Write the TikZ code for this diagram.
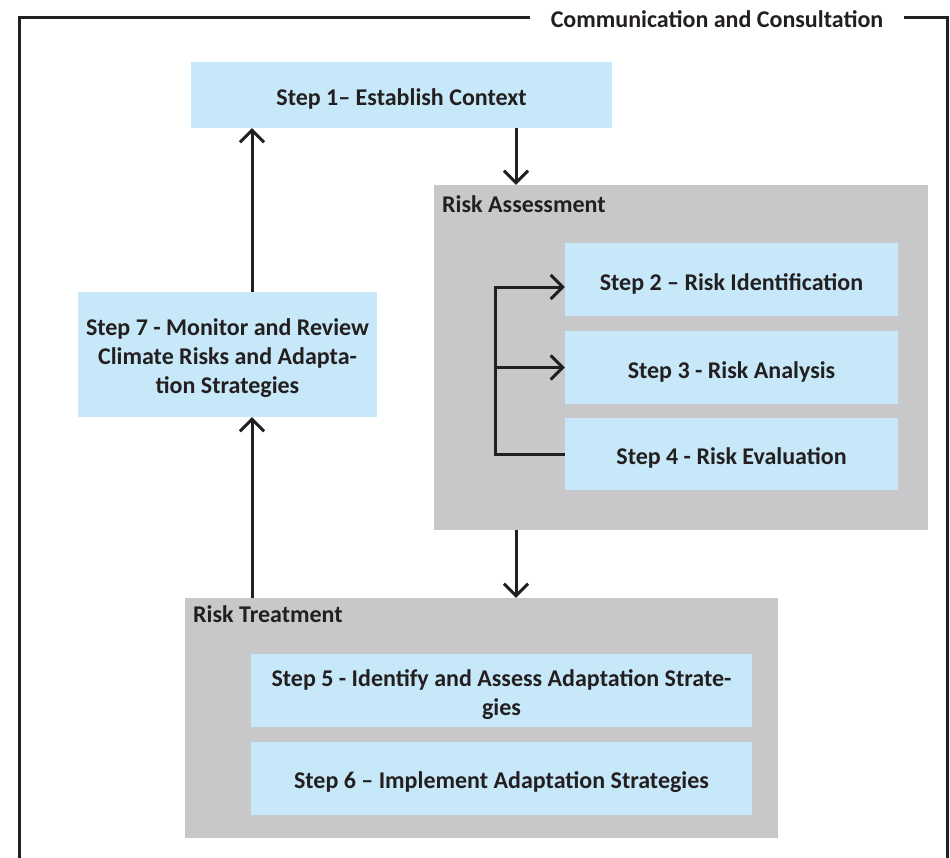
\documentclass[tikz,border=0pt]{standalone}
\usepackage{fontspec}
\setmainfont{Carlito}
\usetikzlibrary{arrows.meta}
\definecolor{stepblue}{HTML}{C7E8F8}
\definecolor{phasegray}{HTML}{C8C8CA}
\definecolor{ink}{HTML}{231F20}
\tikzset{
  boldtext/.style={font=\bfseries\fontsize{24}{29}\selectfont, text=ink},
  stepbox/.style={fill=stepblue, draw=none, inner sep=0pt},
  % step captions sit a little below the centre of their boxes
  steptext/.style={boldtext, inner sep=0pt, align=center, yshift=-4pt},
  phasebox/.style={fill=phasegray, draw=none, inner sep=0pt},
  phaselabel/.style={boldtext, anchor=base west, inner sep=0pt},
  link/.style={draw=ink, line width=3pt, line join=miter},
  arr/.style={link, -{Straight Barb[length=12pt,width=24pt]}},
  frame/.style={draw=ink, line width=3pt, line join=miter}
}
\begin{document}
\begin{tikzpicture}[x=1pt,y=-1pt]
\useasboundingbox (0,0) rectangle (950,857);

% outer frame with its caption
\coordinate (tl) at (19,17.5);
\coordinate (tr) at (947,17.5);
\coordinate (bl) at (19,870);
\coordinate (br) at (947,870);
\node[boldtext, anchor=base, inner xsep=21pt, inner ysep=0pt] (cc) at (717,27.5) {Communication and Consultation};
\draw[frame] (cc.west |- tl) -- (tl) -- (bl);
\draw[frame] (cc.east |- tr) -- (tr) -- (br);

% phase panels
\node[phasebox, minimum width=494pt, minimum height=345pt] (ra) at (681,357.5) {};
\node[phaselabel] (ralbl) at (442,212) {Risk Assessment};
\node[phasebox, minimum width=593pt, minimum height=240pt] (rt) at (481.5,718) {};
\node[phaselabel] (rtlbl) at (193,622) {Risk Treatment};

% step boxes
\node[stepbox, minimum width=421pt, minimum height=66pt] (s1) at (401.5,95) {};
\node[stepbox, minimum width=299pt, minimum height=125pt] (s7) at (227.5,354.5) {};
\node[stepbox, minimum width=333pt, minimum height=73pt] (s2) at (731.5,279.5) {};
\node[stepbox, minimum width=333pt, minimum height=73pt] (s3) at (731.5,367.5) {};
\node[stepbox, minimum width=333pt, minimum height=72pt] (s4) at (731.5,454) {};
\node[stepbox, minimum width=501pt, minimum height=73pt] (s5) at (501.5,690.5) {};
\node[stepbox, minimum width=501pt, minimum height=73pt] (s6) at (501.5,778.5) {};

% step captions
\node[steptext] (s1t) at (s1.center) {Step 1– Establish Context};
\node[steptext] (s7t) at (s7.center) {Step 7 - Monitor and Review\\Climate Risks and Adapta-\\tion Strategies};
\node[steptext] (s2t) at (s2.center) {Step 2 – Risk Identification};
\node[steptext] (s3t) at (s3.center) {Step 3 - Risk Analysis};
\node[steptext] (s4t) at (s4.center) {Step 4 - Risk Evaluation};
\node[steptext] (s5t) at (s5.center) {Step 5 - Identify and Assess Adaptation Strate-\\gies};
\node[steptext] (s6t) at (s6.center) {Step 6 – Implement Adaptation Strategies};

% connector columns
\coordinate (colL) at (252,0);
\coordinate (colR) at (516,0);
\draw[arr] (s1.south -| colR) -- (ra.north -| colR);
\draw[arr] (ra.south -| colR) -- (rt.north -| colR);
\draw[arr] (rt.north -| colL) -- (s7.south -| colL);
\draw[arr] (s7.north -| colL) -- (s1.south -| colL);

% bracket feeding steps 2 to 4
\coordinate (b2) at (495,287);
\coordinate (b3) at (495,367.5);
\coordinate (b4) at (495,454);
\draw[arr] (s4.west) -- (b4) -- (b2) -- (b2 -| s2.west);
\draw[arr] (b3) -- (s3.west);
\end{tikzpicture}
\end{document}
